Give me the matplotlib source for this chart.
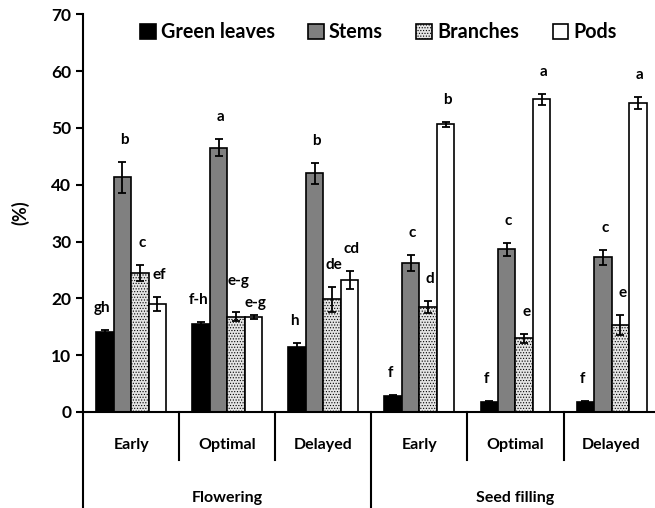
import numpy as np
import matplotlib.pyplot as plt
import matplotlib as mpl

plt.rcParams['font.family'] = ['Lato', 'DejaVu Sans']
plt.rcParams['font.weight'] = 'bold'
plt.rcParams['axes.labelweight'] = 'bold'
mpl.rcParams['hatch.color'] = '#c8c8c8'
mpl.rcParams['hatch.linewidth'] = 0.5

# data
times = ['Early', 'Optimal', 'Delayed', 'Early', 'Optimal', 'Delayed']
stages = ['Flowering', 'Seed filling']
series = ['Green leaves', 'Stems', 'Branches', 'Pods']

green = [14.0, 15.5, 11.4, 2.8, 1.7, 1.7]
green_err = [0.5, 0.4, 0.7, 0.15, 0.25, 0.3]
stems = [41.3, 46.5, 42.0, 26.2, 28.6, 27.2]
stems_err = [2.7, 1.5, 1.9, 1.4, 1.2, 1.3]
branches = [24.5, 16.8, 19.8, 18.5, 13.0, 15.3]
branches_err = [1.4, 0.8, 2.2, 1.0, 0.8, 1.8]
pods = [19.0, 16.7, 23.2, 50.6, 55.0, 54.4]
pods_err = [1.2, 0.3, 1.6, 0.5, 1.0, 1.1]

green_let = ['gh', 'f-h', 'h', 'f', 'f', 'f']
stems_let = ['b', 'a', 'b', 'c', 'c', 'c']
branches_let = ['c', 'e-g', 'de', 'd', 'e', 'e']
pods_let = ['ef', 'e-g', 'cd', 'b', 'a', 'a']

vals = [green, stems, branches, pods]
errs = [green_err, stems_err, branches_err, pods_err]
lets = [green_let, stems_let, branches_let, pods_let]
faces = ['black', '#808080', '#e4e4e4', 'white']
hatches = [None, None, '......', None]

fig = plt.figure(figsize=(6.55, 5.08), dpi=100)
ax = fig.add_axes([0.127, 0.189, 0.88, 0.783])

x = np.arange(len(times))
w = 0.182
for k in range(4):
    pos = x + (k - 1.5) * w
    ax.bar(pos, vals[k], w, color=faces[k], edgecolor='black', linewidth=1.2,
           hatch=hatches[k], label=series[k], zorder=2)
    ax.errorbar(pos, vals[k], yerr=errs[k], fmt='none', ecolor='black',
                elinewidth=1.3, capsize=3, capthick=1.3, zorder=3)
    shift = -0.03 if k == 0 else 0.02
    for i in range(len(x)):
        dy = 2.6
        # the two e-g labels of optimal flowering are nudged apart
        if i == 1 and k == 2:
            dy = 4.3
        if i == 1 and k == 3:
            dy = 0.9
        ax.text(pos[i] + shift, vals[k][i] + errs[k][i] + dy, lets[k][i], ha='center',
                va='bottom', fontsize=11)

ax.set_xlim(-0.5, 5.5)
ax.set_ylim(0, 70)
ax.set_yticks(np.arange(0, 71, 10))
ax.tick_params(axis='y', labelsize=12.5, width=1.5, length=5)
ax.set_xticks([])
ax.spines['top'].set_visible(False)
ax.spines['right'].set_visible(False)
ax.spines['left'].set_linewidth(1.5)
ax.spines['bottom'].set_linewidth(1.5)
ax.set_ylabel('(%)', fontsize=13, labelpad=16)

# hierarchical x axis
tr = ax.get_xaxis_transform()
for i, t in enumerate(times):
    ax.text(x[i], -0.083, t, transform=tr, ha='center', va='center', fontsize=11.5)
for b in range(1, 6):
    low = -0.241 if b == 3 else -0.12
    ax.plot([b - 0.5, b - 0.5], [0, low], transform=tr, color='black', lw=1.5, clip_on=False)
ax.plot([-0.5, -0.5], [0, -0.241], transform=tr, color='black', lw=1.5, clip_on=False)
for j, s in enumerate(stages):
    ax.text(1 + 3 * j, -0.215, s, transform=tr, ha='center', va='center', fontsize=11.5)

ax.legend(loc='upper center', bbox_to_anchor=(0.512, 1.025), ncol=4, frameon=False,
          fontsize=14.2, handlelength=0.8, handleheight=0.8, handletextpad=0.25,
          columnspacing=1.7)

fig.savefig('out.png', dpi=100)
